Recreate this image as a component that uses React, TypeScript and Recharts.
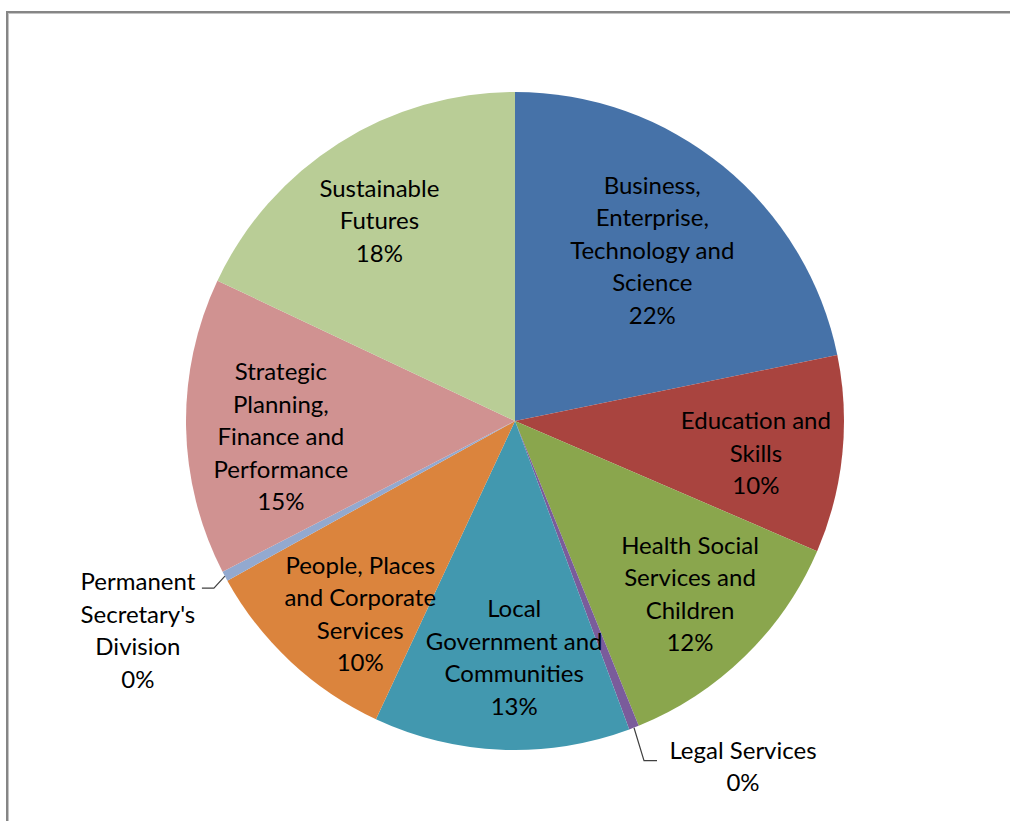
import React from 'react';
import { PieChart, Pie, Cell } from 'recharts';

const categories = [
  'Business, Enterprise, Technology and Science',
  'Education and Skills',
  'Health Social Services and Children',
  'Legal Services',
  'Local Government and Communities',
  'People, Places and Corporate Services',
  "Permanent Secretary's Division",
  'Strategic Planning, Finance and Performance',
  'Sustainable Futures',
];

const values = [21.8, 9.7, 12.4, 0.49, 12.6, 10.0, 0.49, 14.6, 18.0];

const colors = [
  '#4672A8',
  '#A9443F',
  '#8AA64D',
  '#7A5C9B',
  '#4298AF',
  '#DB843D',
  '#93A9CF',
  '#D09291',
  '#B9CD96',
];

const data = categories.map((name, i) => ({ name, value: values[i] }));
const total = values.reduce((a, b) => a + b, 0);

const RAD = Math.PI / 180;
const FONT = 'Lato, "Noto Sans", sans-serif';
const FONT_SIZE = 24;
const LINE_H = 32.5;

// small per-slice label nudges (px) to mimic Excel's best-fit placement
const nudge: Record<number, [number, number]> = {
  0: [0, -4],
  1: [2, 6],
  2: [7, 0],
  4: [9, -5],
  5: [9, 16],
  7: [6, 10],
  8: [-7, 1],
};

function wrap(text: string, max = 14): string[] {
  const out: string[] = [];
  let cur = '';
  for (const w of text.split(' ')) {
    const next = cur ? `${cur} ${w}` : w;
    if (next.length > max && cur) {
      out.push(cur);
      cur = w;
    } else {
      cur = next;
    }
  }
  if (cur) out.push(cur);
  return out;
}

// slices too thin for an inside label get a leader line out to the side
const outside: Record<number, 'left' | 'right'> = { 3: 'right', 6: 'left' };

function renderLabel(props: any) {
  const { cx, cy, midAngle, outerRadius, index } = props;
  const pct = Math.round((values[index] / total) * 100);
  const lines = [...wrap(categories[index]), `${pct}%`];
  const cos = Math.cos(-midAngle * RAD);
  const sin = Math.sin(-midAngle * RAD);

  if (outside[index]) {
    const sx = cx + outerRadius * cos;
    const sy = cy + outerRadius * sin;
    const side = outside[index];
    const ex = side === 'right' ? sx + 10 : sx - 11;
    const ey = side === 'right' ? sy + 33 : sy + 12;
    const hx = side === 'right' ? ex + 13 : ex - 12;
    const tx = side === 'right' ? hx + 86 : hx - 64;
    const ty = side === 'right' ? ey - 12 : ey - 8;
    return (
      <g key={`lbl-${index}`}>
        <polyline
          points={`${sx},${sy} ${ex},${ey} ${hx},${ey}`}
          fill="none"
          stroke="#404040"
          strokeWidth={1.2}
        />
        <text
          x={tx}
          y={ty}
          textAnchor="middle"
          dominantBaseline="central"
          fontFamily={FONT}
          fontSize={FONT_SIZE}
          fill="#000"
        >
          {lines.map((l, i) => (
            <tspan key={i} x={tx} dy={i === 0 ? 0 : LINE_H}>
              {l}
            </tspan>
          ))}
        </text>
      </g>
    );
  }

  const rf = index === 0 ? 0.66 : 0.73;
  const [nx, ny] = nudge[index] ?? [0, 0];
  const x = cx + outerRadius * rf * cos + nx;
  const y = cy + outerRadius * rf * sin + ny;
  const y0 = y - ((lines.length - 1) * LINE_H) / 2;
  return (
    <text
      key={`lbl-${index}`}
      x={x}
      y={y0}
      textAnchor="middle"
      dominantBaseline="central"
      fontFamily={FONT}
      fontSize={FONT_SIZE}
      fill="#000"
    >
      {lines.map((l, i) => (
        <tspan key={i} x={x} dy={i === 0 ? 0 : LINE_H}>
          {l}
        </tspan>
      ))}
    </text>
  );
}

export default function App() {
  return (
    <div
      style={{
        position: 'absolute',
        left: 0,
        top: 0,
        width: 1010,
        height: 821,
        overflow: 'hidden',
        background: '#fff',
      }}
    >
      <div
        style={{
          position: 'absolute',
          left: 6,
          top: 11,
          width: 1100,
          height: 900,
          borderLeft: '2px solid #868686',
          borderTop: '2px solid #868686',
          boxShadow: 'inset 1px 1px 0 #c4c4c4',
        }}
      />
      <div style={{ position: 'absolute', left: 0, top: 0 }}>
        <PieChart
          width={1010}
          height={821}
          margin={{ top: 0, right: 0, bottom: 0, left: 0 }}
        >
          <Pie
            data={data}
            dataKey="value"
            nameKey="name"
            cx={515}
            cy={421}
            outerRadius={329}
            startAngle={90}
            endAngle={-270}
            stroke="none"
            label={renderLabel}
            labelLine={false}
            isAnimationActive={false}
          >
            {data.map((d, i) => (
              <Cell key={d.name} fill={colors[i]} />
            ))}
          </Pie>
        </PieChart>
      </div>
    </div>
  );
}
